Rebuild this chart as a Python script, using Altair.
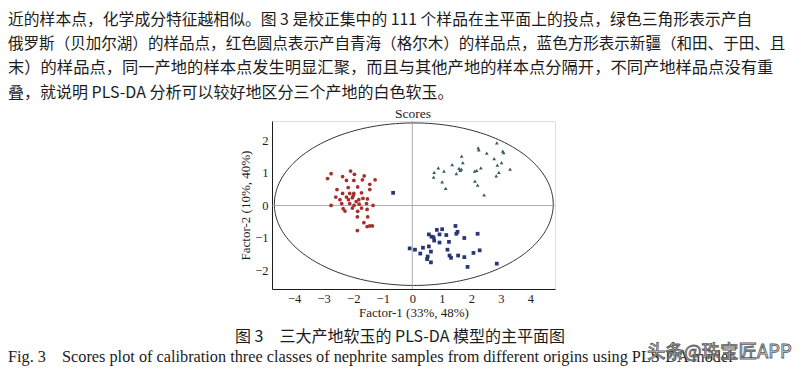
import altair as alt
import numpy as np
import pandas as pd

# ---- data ----
red_x = [-2.87, -2.75, -2.36, -2.09, -1.96, -1.63, -2.23, -1.98, -1.69, -1.26, -1.44,
         -2.55, -2.17, -1.85, -1.44, -2.36, -2.12, -1.98, -1.72, -2.59, -2.23, -2.03,
         -1.67, -1.52, -2.45, -2.16, -1.81, -2.75, -2.39, -2.12, -1.97, -1.80, -1.55,
         -1.33, -2.34, -2.03, -1.72, -2.28, -1.85, -1.53, -1.86, -1.51, -1.64, -1.53,
         -1.44, -1.35, -1.86, -2.00, -1.90]
red_y = [0.83, 0.98, 0.89, 1.06, 0.96, 0.91, 0.77, 0.77, 0.79, 0.79, 0.65,
         0.49, 0.55, 0.57, 0.49, 0.37, 0.37, 0.37, 0.39, 0.26, 0.26, 0.24,
         0.22, 0.20, 0.18, 0.18, 0.18, 0.00, 0.06, 0.06, 0.00, 0.04, 0.06,
         0.00, -0.10, -0.08, -0.08, -0.17, -0.18, -0.12, -0.35, -0.35, -0.53, -0.65,
         -0.63, -0.63, -0.77, 0.30, 0.12]

green_x = [2.86, 2.23, 2.25, 2.52, 3.06, 3.09, 1.67, 2.77, 1.35, 1.71, 3.02, 2.88, 0.88,
           1.58, 1.66, 1.62, 1.07, 0.74, 1.49, 2.18, 2.32, 2.11, 3.31, 2.93, 2.84, 0.72,
           1.01, 2.12, 2.21, 1.13, 2.43]
green_y = [1.93, 1.77, 1.71, 1.61, 1.67, 1.63, 1.52, 1.44, 1.26, 1.32, 1.32, 1.24, 1.16,
           1.14, 1.12, 1.08, 1.06, 1.02, 0.98, 1.08, 1.16, 1.06, 1.12, 1.02, 0.91, 0.87,
           0.73, 0.75, 0.63, 0.53, 0.33]

blue_x = [1.46, 1.01, 0.83, 1.53, 1.49, 2.21, 0.56, 0.65, 0.72, 0.92, 1.15, 1.76, 0.74,
          0.92, 1.24, -0.09, 0.09, 0.36, 0.56, 1.19, 2.28, 0.27, 0.63, 1.26, 1.31, 1.55,
          1.76, 2.07, 0.52, 0.50, 0.63, 1.87, 2.86, -0.65]
blue_y = [-0.63, -0.73, -0.75, -0.81, -0.87, -0.87, -0.89, -0.96, -0.98, -0.89, -0.91,
          -1.00, -1.08, -1.14, -1.12, -1.32, -1.36, -1.30, -1.26, -1.36, -1.38, -1.48,
          -1.42, -1.54, -1.61, -1.54, -1.59, -1.46, -1.57, -1.65, -1.75, -1.89, -1.79, 0.39]

groups = ["青海", "俄罗斯", "新疆"]
group_colors = ["#a3302c", "#355e5a", "#2a3573"]
group_shapes = ["circle", "triangle-up", "square"]

x_ticks = [-4, -3, -2, -1, 0, 1, 2, 3, 4]
y_ticks = [-2, -1, 0, 1, 2]

# confidence ellipse (centre and semi-axes)
ell_cx, ell_cy, ell_a, ell_b = 0.05, 0.04, 4.72, 2.50

plot_title = "Scores"
para_lines = [
    "近的样本点，化学成分特征越相似。图 3 是校正集中的 111 个样品在主平面上的投点，绿色三角形表示产自",
    "俄罗斯（贝加尔湖）的样品点，红色圆点表示产自青海（格尔木）的样品点，蓝色方形表示新疆（和田、于田、且",
    "末）的样品点，同一产地的样本点发生明显汇聚，而且与其他产地的样本点分隔开，不同产地样品点没有重",
    "叠，就说明 PLS-DA 分析可以较好地区分三个产地的白色软玉。",
]
caption_cn = "图 3　三大产地软玉的 PLS-DA 模型的主平面图"
caption_en = "Fig. 3　Scores plot of calibration three classes of nephrite samples from different origins using PLS-DA model"
watermark = "头条@珠宝匠APP"

# ---- build tables ----
pts = pd.concat([
    pd.DataFrame({"x": red_x, "y": red_y, "g": groups[0]}),
    pd.DataFrame({"x": green_x, "y": green_y, "g": groups[1]}),
    pd.DataFrame({"x": blue_x, "y": blue_y, "g": groups[2]}),
], ignore_index=True)

t = np.linspace(0, 2 * np.pi, 241)
ell = pd.DataFrame({"x": ell_cx + ell_a * np.cos(t),
                    "y": ell_cy + ell_b * np.sin(t),
                    "o": np.arange(len(t))})

SERIF = "Liberation Serif"
CJK = "Noto Sans CJK SC"
INK = "#1c1c1c"

xs = alt.Scale(domain=[-4.75, 4.83], nice=False, zero=False)
ys = alt.Scale(domain=[-2.57, 2.60], nice=False, zero=False)

x_axis = alt.Axis(values=x_ticks, tickCount=9, title="Factor-1 (33%, 48%)", grid=False,
                  ticks=False, labelOverlap=False, domainColor=INK, domainWidth=1,
                  labelFont=SERIF, labelFontSize=12.5, labelColor=INK, titleFont=SERIF,
                  titleFontSize=13, titleFontWeight="normal", titleColor=INK,
                  labelPadding=3, titlePadding=2)
y_axis = alt.Axis(values=y_ticks, tickCount=5, title="Factor-2 (10%, 40%)", grid=False,
                  ticks=False, labelOverlap=False, domainColor=INK, domainWidth=1,
                  labelFont=SERIF, labelFontSize=12.5, labelColor=INK, titleFont=SERIF,
                  titleFontSize=13, titleFontWeight="normal", titleColor=INK,
                  labelPadding=4, titlePadding=2)


def X(field):
    return alt.X(field, scale=xs, axis=x_axis)


def Y(field):
    return alt.Y(field, scale=ys, axis=y_axis)


ellipse = alt.Chart(ell).mark_line(color="#333333", strokeWidth=1).encode(
    x=X("x:Q"), y=Y("y:Q"), order="o:Q",
)

zero = pd.DataFrame({"v": [0]})
vrule = alt.Chart(zero).mark_rule(color="#999999", strokeWidth=0.8).encode(x=X("v:Q"))
hrule = alt.Chart(zero).mark_rule(color="#999999", strokeWidth=0.8).encode(y=Y("v:Q"))

points = alt.Chart(pts).mark_point(filled=True, size=14, opacity=1).encode(
    x=X("x:Q"),
    y=Y("y:Q"),
    color=alt.Color("g:N", scale=alt.Scale(domain=groups, range=group_colors), legend=None),
    shape=alt.Shape("g:N", scale=alt.Scale(domain=groups, range=group_shapes), legend=None),
)


def label(text, x, y, font, size, align="left", color=INK, **kw):
    return alt.Chart(pd.DataFrame({"t": [text]})).mark_text(
        align=align, baseline="middle", font=font, fontSize=size, color=color, **kw
    ).encode(text="t:N", x=alt.value(x), y=alt.value(y))


# plot origin is at page (272,121)
texts = [label(plot_title, 413 - 272, 114 - 121, SERIF, 13.5, align="center")]
para_y = [20, 44, 68, 93]
para_size = [15.8, 15.55, 16.3, 16.0]
for line, py, fs in zip(para_lines, para_y, para_size):
    texts.append(label(line, -264, py - 121, CJK, fs))
texts.append(label(caption_cn, 400 - 272, 337 - 121, CJK, 16, align="center"))
texts.append(label(caption_en, 8 - 272, 357 - 121, SERIF, 16.3))
texts.append(label(watermark, 647 - 272, 352 - 121, CJK, 18.5, color="#ffffff",
                   stroke="#5a5a5a", strokeWidth=0.9))

chart = alt.layer(ellipse, vrule, hrule, points, *texts).properties(
    width=283,
    height=168,
    padding={"left": 264, "top": 113, "right": 241, "bottom": 78},
    autosize=alt.AutoSizeParams(type="none"),
).configure_view(stroke=None).configure(background="#ffffff")

chart.save("out.html", embed_options={"renderer": "svg", "actions": False})
